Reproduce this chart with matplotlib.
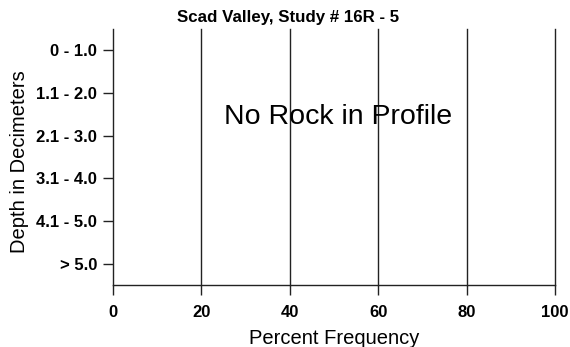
import matplotlib
import matplotlib.pyplot as plt

matplotlib.use('Agg')
plt.rcParams['font.family'] = ['Liberation Sans', 'DejaVu Sans']

# Depth classes and percent of rock in each (no rock found in this profile)
depth_classes = ['0 - 1.0', '1.1 - 2.0', '2.1 - 3.0', '3.1 - 4.0', '4.1 - 5.0', '> 5.0']
rock_percent = [0, 0, 0, 0, 0, 0]
x_ticks = [0, 20, 40, 60, 80, 100]

fig = plt.figure(figsize=(5.7, 3.47), dpi=100)
ax = fig.add_axes([0.198, 0.179, 0.776, 0.737])

ax.barh(range(len(depth_classes)), rock_percent, color='black')

ax.set_xlim(0, 100)
ax.set_ylim(len(depth_classes) - 0.5, -0.5)
ax.set_xticks(x_ticks)
ax.set_yticks(range(len(depth_classes)))
ax.set_yticklabels(depth_classes)

for x in x_ticks[1:]:
    ax.axvline(x, color='#222222', lw=1.0, zorder=1, clip_on=False)

for side in ['top', 'right']:
    ax.spines[side].set_visible(False)
for side in ['left', 'bottom']:
    ax.spines[side].set_color('#222222')
    ax.spines[side].set_linewidth(1.0)

ax.tick_params(axis='x', direction='out', length=7.2, width=1.0, color='#222222', pad=7.5)
ax.tick_params(axis='y', direction='out', length=7.2, width=1.0, color='#222222', pad=4.3)
for lbl in ax.get_xticklabels() + ax.get_yticklabels():
    lbl.set_fontweight('bold')
    lbl.set_fontsize(12)

fig.text(0.505, 0.951, 'Scad Valley, Study # 16R - 5', fontsize=12.2, fontweight='bold',
         ha='center', va='center')
ax.set_xlabel('Percent Frequency', fontsize=14.5)
ax.xaxis.set_label_coords(0.5, -0.173)
ax.set_ylabel('Depth in Decimeters', fontsize=14.5)
ax.yaxis.set_label_coords(-0.19, 0.482)

ax.text(0.51, 0.656, 'No Rock in Profile', transform=ax.transAxes,
        ha='center', va='center', fontsize=20.5)

plt.savefig('out.png', dpi=100, facecolor='white')
plt.close()
